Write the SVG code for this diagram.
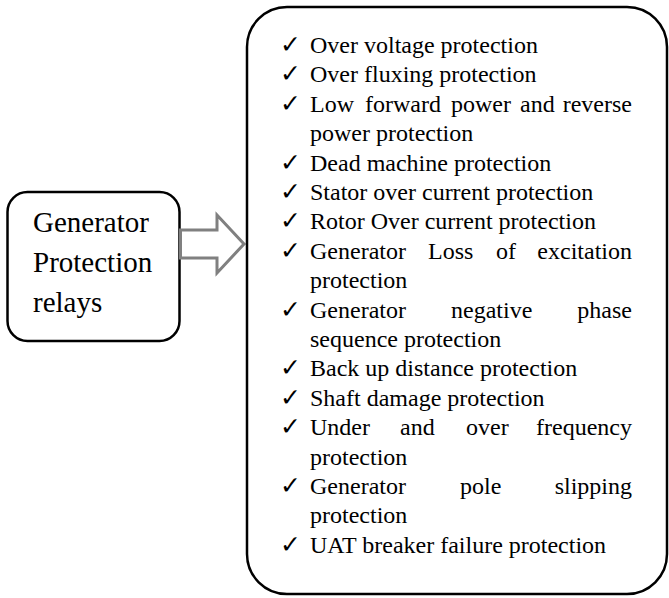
<svg xmlns="http://www.w3.org/2000/svg" width="669" height="598" viewBox="0 0 669 598">
<style>
.box{fill:#fff;stroke:#000;stroke-width:2.5}
.t{font-family:"Liberation Serif","Times New Roman",serif;font-size:24px;fill:#000}
.big{font-family:"Liberation Serif","Times New Roman",serif;font-size:29px;fill:#000}
.ck{font-family:"DejaVu Sans",sans-serif;font-size:25px;font-weight:bold;fill:#000}
.e{text-anchor:end}
</style>
<rect width="669" height="598" fill="#fff"/>
<g id="relays">
<rect class="box" x="7.5" y="192" width="172" height="149" rx="20" ry="20"/>
<text class="big" x="33" y="232">Generator</text>
<text class="big" x="33" y="272">Protection</text>
<text class="big" x="33" y="312">relays</text>
</g>
<g id="connectors">
<path d="M180.5,230 H217 V215 L244,244 L217,273 V258 H180.5 Z" fill="#fff" stroke="#808080" stroke-width="3" stroke-linejoin="miter"/>
</g>
<g id="list">
<rect class="box" x="247" y="7" width="420" height="587" rx="40" ry="40"/>
<g class="ck">
<text x="280" y="53">✓</text>
<text x="280" y="82.4">✓</text>
<text x="280" y="111.8">✓</text>
<text x="280" y="170.6">✓</text>
<text x="280" y="200">✓</text>
<text x="280" y="229.4">✓</text>
<text x="280" y="258.8">✓</text>
<text x="280" y="317.6">✓</text>
<text x="280" y="376.4">✓</text>
<text x="280" y="405.8">✓</text>
<text x="280" y="435.2">✓</text>
<text x="280" y="494">✓</text>
<text x="280" y="552.8">✓</text>
</g>
<g class="t">
<text x="310" y="53">Over voltage protection</text>
<text x="310" y="82.4">Over fluxing protection</text>
<text y="111.8"><tspan x="310">Low</tspan><tspan x="365">forward</tspan><tspan x="451">power</tspan><tspan x="520">and</tspan><tspan class="e" x="632">reverse</tspan></text>
<text x="310" y="141.2">power protection</text>
<text x="310" y="170.6">Dead machine protection</text>
<text x="310" y="200">Stator over current protection</text>
<text x="310" y="229.4">Rotor Over current protection</text>
<text y="258.8"><tspan x="310">Generator</tspan><tspan x="428">Loss</tspan><tspan x="496">of</tspan><tspan class="e" x="632">excitation</tspan></text>
<text x="310" y="288.2">protection</text>
<text y="317.6"><tspan x="310">Generator</tspan><tspan x="451">negative</tspan><tspan class="e" x="632">phase</tspan></text>
<text x="310" y="347">sequence protection</text>
<text x="310" y="376.4">Back up distance protection</text>
<text x="310" y="405.8">Shaft damage protection</text>
<text y="435.2"><tspan x="310">Under</tspan><tspan x="400">and</tspan><tspan x="466">over</tspan><tspan class="e" x="632">frequency</tspan></text>
<text x="310" y="464.6">protection</text>
<text y="494"><tspan x="310">Generator</tspan><tspan x="460">pole</tspan><tspan class="e" x="632">slipping</tspan></text>
<text x="310" y="523.4">protection</text>
<text x="310" y="552.8">UAT breaker failure protection</text>
</g>
</g>
</svg>
